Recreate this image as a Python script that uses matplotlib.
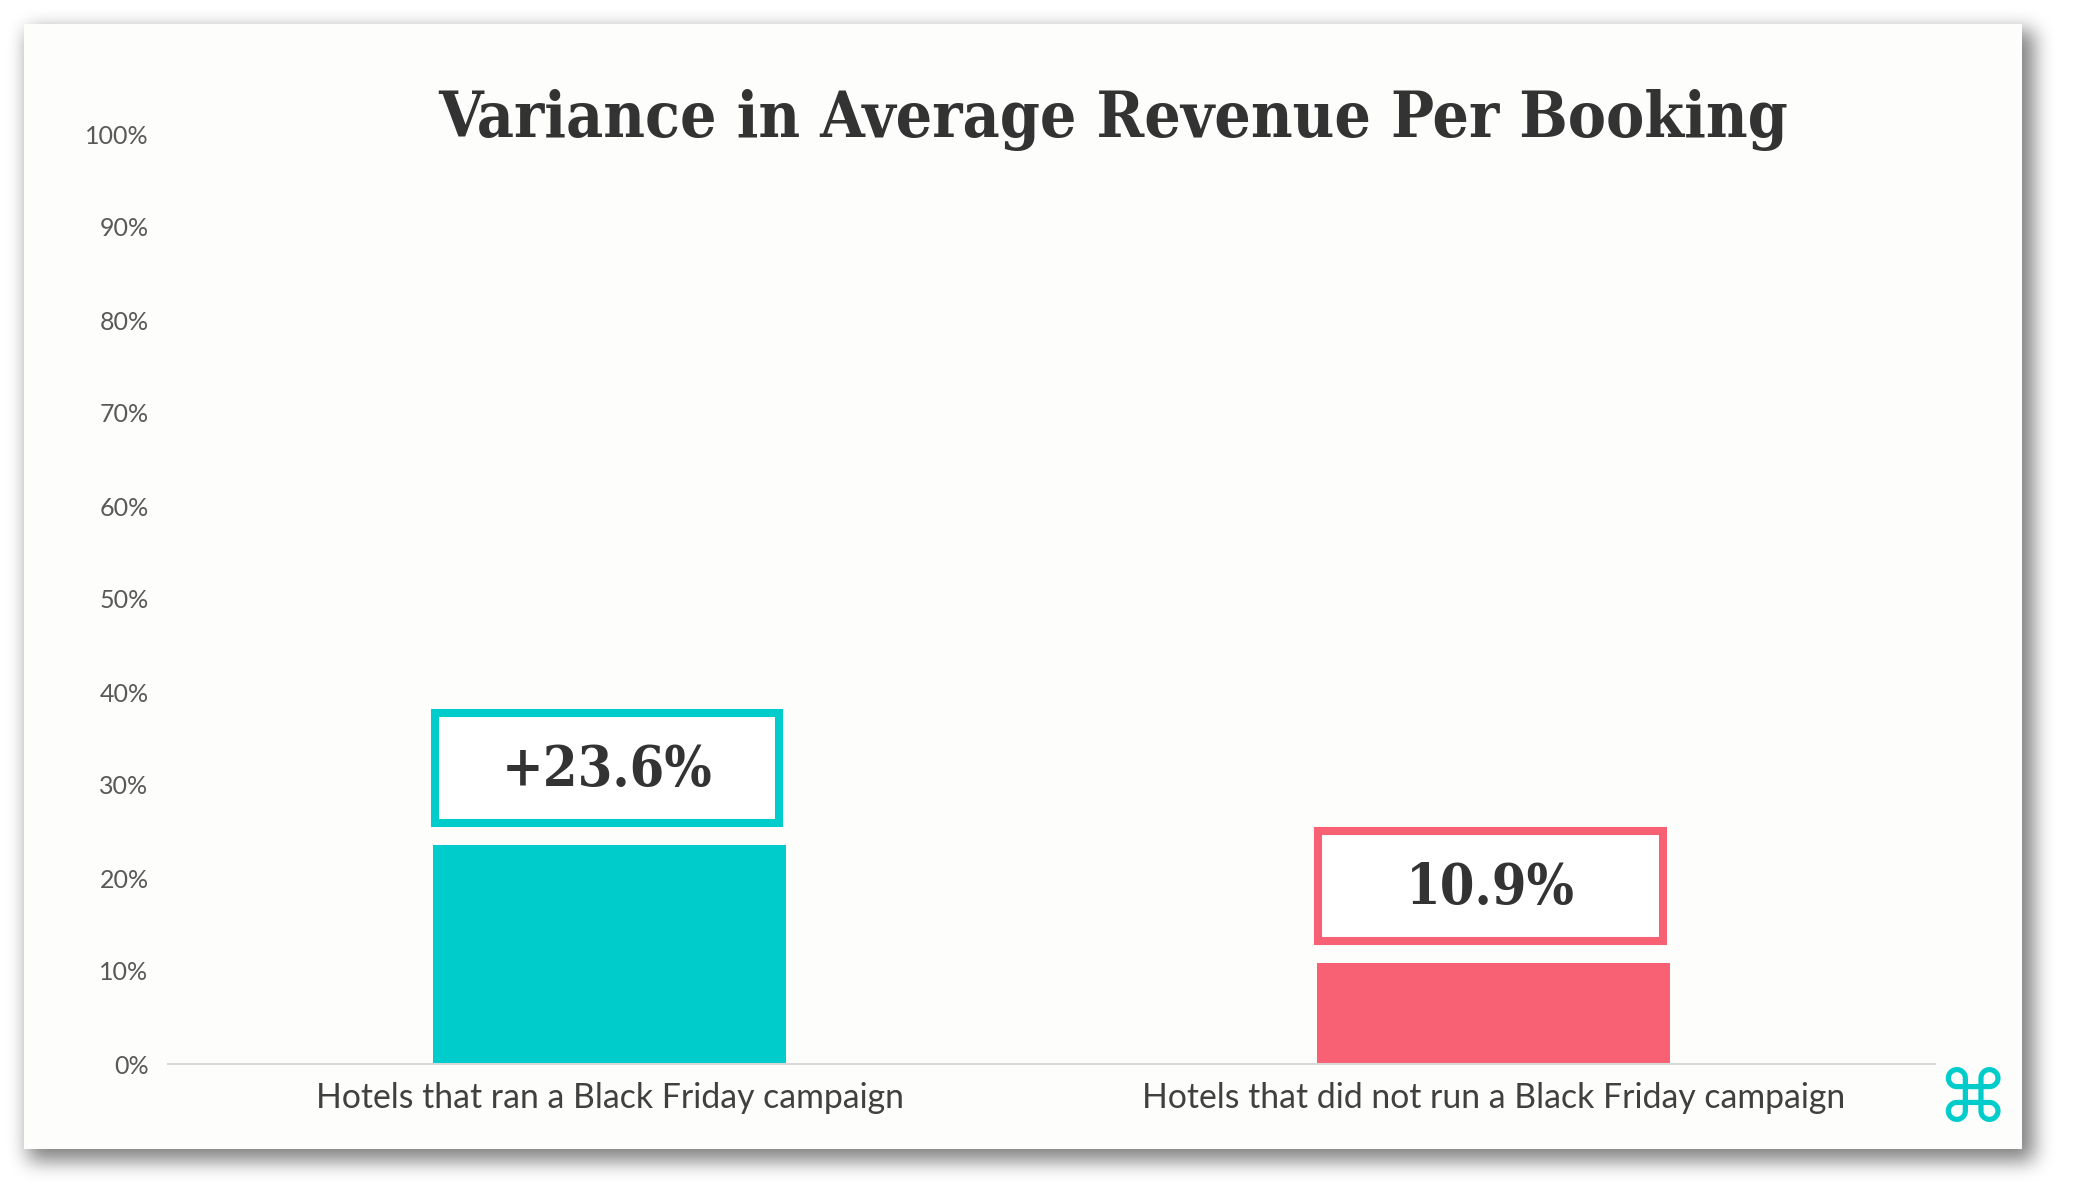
import numpy as np
import matplotlib
matplotlib.use('Agg')
import matplotlib.pyplot as plt
from matplotlib.patches import Rectangle

categories = ['Hotels that ran a Black Friday campaign', 'Hotels that did not run a Black Friday campaign']
values = [23.6, 10.9]
labels = ['+23.6%', '10.9%']
colors = ['#00CCCC', '#F86074']
yticks = list(range(0, 101, 10))
title = 'Variance in Average Revenue Per Booking'

W, H = 2075, 1193
fig = plt.figure(figsize=(W / 100, H / 100), dpi=100)
fig.patch.set_facecolor('white')

# background: card with soft drop shadow (pixel coords)
bg = fig.add_axes([0, 0, 1, 1])
bg.axis('off')
cx0, cy0, cx1, cy1 = 24, 24, 2022, 1149


def box_blur(a, r, axis):
    c = np.cumsum(np.pad(a, [(r + 1, r) if i == axis else (0, 0) for i in range(2)]), axis=axis)
    if axis == 0:
        return (c[2 * r + 1:] - c[:-2 * r - 1]) / (2 * r + 1)
    return (c[:, 2 * r + 1:] - c[:, :-2 * r - 1]) / (2 * r + 1)


mask = np.zeros((H, W))
mask[cy0 + 6:cy1 + 12, cx0 + 4:cx1 + 12] = 1.0
for _ in range(3):
    mask = box_blur(mask, 9, 0)
    mask = box_blur(mask, 9, 1)
shadow = np.zeros((H, W, 4))
shadow[..., 3] = mask * 0.5
bg.imshow(shadow, extent=(0, W, H, 0), interpolation='nearest', zorder=0)
bg.set_xlim(0, W)
bg.set_ylim(H, 0)
bg.add_patch(Rectangle((cx0, cy0), cx1 - cx0, cy1 - cy0, facecolor='#FDFDFB', edgecolor='none', zorder=1))

ax = fig.add_axes([168 / W, (H - 1064) / H, 1767 / W, 930 / H])
ax.patch.set_alpha(0)
x = np.arange(len(categories))
ax.bar(x, values, width=0.4, color=colors, zorder=2)

for xi, v, lab, c in zip(x, values, labels, colors):
    ax.add_patch(Rectangle((xi - 0.198, v + 2.35), 0.39, 11.8, facecolor='white',
                           edgecolor=c, linewidth=5.8, zorder=3))
    ax.text(xi - 0.003, v + 8.0, lab, ha='center', va='center', fontsize=40, fontweight='bold',
            family='DejaVu Serif', fontstretch='condensed', color='#333333', zorder=4)

ax.set_xlim(-0.5, 1.5)
ax.set_ylim(0, 100)
ax.set_yticks(yticks)
ax.set_yticklabels([f'{t}%' for t in yticks], family='Lato', fontsize=18, color='#595959')
ax.set_xticks(x)
ax.set_xticklabels(categories, family='Lato', fontsize=24.3, color='#404040')
ax.tick_params(axis='both', length=0)
ax.tick_params(axis='y', pad=14)
ax.tick_params(axis='x', pad=13)
for s in ['top', 'right', 'left']:
    ax.spines[s].set_visible(False)
ax.spines['bottom'].set_color('#D9D9D9')
ax.spines['bottom'].set_linewidth(1.5)

fig.text(1113 / W, 1 - 120 / H, title, ha='center', va='center', fontsize=46,
         fontweight='bold', family='DejaVu Serif', fontstretch='condensed', color='#333333')
fig.text(1972 / W, 1 - 1102 / H, '\u2318', ha='center', va='center', fontsize=52,
         family='DejaVu Sans', color='#00CCCC')

fig.savefig('out.png', dpi=100)
